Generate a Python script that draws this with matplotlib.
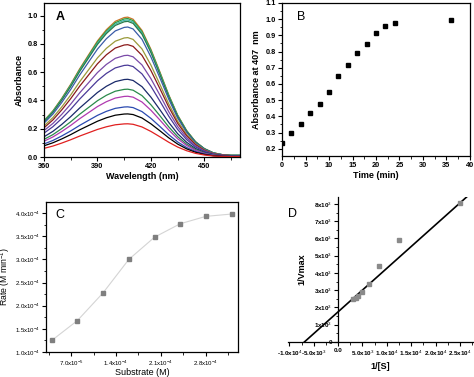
import matplotlib
matplotlib.use("Agg")
import matplotlib.pyplot as plt
from matplotlib.ticker import MultipleLocator, FixedLocator, FixedFormatter
import numpy as np

plt.rcParams['font.family'] = ['Liberation Sans', 'DejaVu Sans']
plt.rcParams['mathtext.fontset'] = 'custom'
plt.rcParams['mathtext.rm'] = 'Liberation Sans'
plt.rcParams['mathtext.bf'] = 'Liberation Sans:bold'

# ---------------- data ----------------
# Panel A: spectra (normalized band shape, scaled by each curve's peak)
a_wavelength = [360, 365, 370, 375, 380, 385, 390, 395, 400, 405, 407, 410, 415,
                420, 425, 430, 435, 440, 445, 450, 455, 460, 465, 470]
a_shape = [0.26, 0.33, 0.42, 0.52, 0.63, 0.73, 0.83, 0.91, 0.97, 0.997, 1.0, 0.985,
           0.905, 0.77, 0.61, 0.445, 0.30, 0.19, 0.11, 0.06, 0.03, 0.017, 0.012, 0.012]
a_peaks = [0.99, 0.98, 0.97, 0.96, 0.92, 0.845, 0.795, 0.72, 0.65, 0.55, 0.48, 0.43,
           0.355, 0.305, 0.235]
a_colors = ['#c8752a', '#2f9a3a', '#3fb8a8', '#2a7a4a', '#3a5ca8', '#9a9a3a', '#8a1a1a',
            '#7a4aa8', '#4a3a98', '#1a2a6a', '#2a8a4a', '#b03ab0', '#2a4ab0', '#000000',
            '#e02020']

# Panel B: absorbance at 407 nm vs time
b_time = [0, 2, 4, 6, 8, 10, 12, 14, 16, 18, 20, 22, 24, 36]
b_abs = [0.235, 0.30, 0.352, 0.422, 0.475, 0.55, 0.65, 0.715, 0.79, 0.845, 0.913,
         0.957, 0.975, 0.992]

# Panel C: rate vs substrate
c_substrate = [4.0e-5, 8.0e-5, 1.2e-4, 1.6e-4, 2.0e-4, 2.4e-4, 2.8e-4, 3.2e-4]
c_rate = [1.25e-4, 1.68e-4, 2.28e-4, 3.0e-4, 3.48e-4, 3.77e-4, 3.93e-4, 3.98e-4]

# Panel D: Lineweaver-Burk
d_inv_s = [25000, 12500, 8333, 6250, 5000, 4167, 3571, 3125]
d_inv_v = [8050, 5900, 4390, 3340, 2880, 2660, 2550, 2520]
d_fit_slope = 0.252
d_fit_intercept = 1750

W, H = 474, 377
fig = plt.figure(figsize=(W / 100, H / 100), dpi=100)


def add_ax(left, top, right, bottom):
    return fig.add_axes([left / W, 1 - bottom / H, (right - left) / W, (bottom - top) / H])


def style_ticks(ax, size=5.3, weight='bold'):
    ax.tick_params(which='major', direction='out', length=3, width=0.8, labelsize=size, pad=1.5)
    ax.tick_params(which='minor', direction='out', length=1.8, width=0.6)
    for lab in ax.get_xticklabels() + ax.get_yticklabels():
        lab.set_fontweight(weight)
    for s in ax.spines.values():
        s.set_linewidth(0.9)


# ---------------- Panel A ----------------
axA = add_ax(44, 3, 240, 157)
for pk, col in zip(a_peaks, a_colors):
    axA.plot(a_wavelength, np.array(a_shape) * pk, color=col, lw=0.9)
axA.set_xlim(360, 470)
axA.set_ylim(0, 1.09)
axA.xaxis.set_major_locator(MultipleLocator(30))
axA.xaxis.set_minor_locator(MultipleLocator(15))
axA.yaxis.set_major_locator(MultipleLocator(0.2))
axA.yaxis.set_minor_locator(MultipleLocator(0.1))
axA.yaxis.set_major_formatter(plt.FormatStrFormatter('%.1f'))
style_ticks(axA)
axA.set_xlabel('Wavelength (nm)', fontsize=6.5, fontweight='bold', labelpad=1)
axA.set_ylabel('Absorbance', fontsize=6.5, fontweight='bold', labelpad=3)
axA.text(0.06, 0.91, 'A', transform=axA.transAxes, fontsize=9, fontweight='bold', va='center')

# ---------------- Panel B ----------------
axB = add_ax(282, 3, 470, 156)
axB.plot(b_time, b_abs, 's', color='black', markersize=3.2)
axB.set_xlim(0, 40)
axB.set_ylim(0.155, 1.1)
axB.xaxis.set_major_locator(MultipleLocator(5))
axB.xaxis.set_minor_locator(MultipleLocator(2.5))
axB.yaxis.set_major_locator(MultipleLocator(0.1))
axB.yaxis.set_minor_locator(MultipleLocator(0.05))
axB.yaxis.set_major_formatter(plt.FormatStrFormatter('%.1f'))
style_ticks(axB)
axB.set_xlabel('Time (min)', fontsize=6.5, fontweight='bold', labelpad=1)
axB.set_ylabel('Absorbance at 407  nm', fontsize=6.5, fontweight='bold', labelpad=3)
axB.text(0.08, 0.91, 'B', transform=axB.transAxes, fontsize=9, va='center')

# ---------------- Panel C ----------------
axC = add_ax(46, 202, 238, 352)
axC.plot(c_substrate, c_rate, '-', color='#d4d4d4', lw=0.8, zorder=1)
axC.plot(c_substrate, c_rate, 's', color='#7f7f7f', markersize=3, zorder=2)
axC.set_xlim(3.1e-5, 3.3e-4)
axC.set_ylim(1.0e-4, 4.24e-4)
c_xticks = [7.0e-5, 1.4e-4, 2.1e-4, 2.8e-4]
c_xticklabels = ['7.0x10$^{-5}$', '1.4x10$^{-4}$', '2.1x10$^{-4}$', '2.8x10$^{-4}$']
axC.xaxis.set_major_locator(FixedLocator(c_xticks))
axC.xaxis.set_major_formatter(FixedFormatter(c_xticklabels))
axC.xaxis.set_minor_locator(MultipleLocator(3.5e-5))
c_yticks = [1.0e-4, 1.5e-4, 2.0e-4, 2.5e-4, 3.0e-4, 3.5e-4, 4.0e-4]
c_yticklabels = ['1.0x10$^{-4}$', '1.5x10$^{-4}$', '2.0x10$^{-4}$', '2.5x10$^{-4}$',
                 '3.0x10$^{-4}$', '3.5x10$^{-4}$', '4.0x10$^{-4}$']
axC.yaxis.set_major_locator(FixedLocator(c_yticks))
axC.yaxis.set_major_formatter(FixedFormatter(c_yticklabels))
axC.yaxis.set_minor_locator(MultipleLocator(0.25e-4))
style_ticks(axC, size=4.4, weight='normal')
axC.set_xlabel('Substrate (M)', fontsize=6.5, labelpad=0)
axC.set_ylabel('Rate (M min$^{-1}$)', fontsize=6.2)
axC.yaxis.set_label_coords(-0.175, 0.5)
axC.text(0.05, 0.91, 'C', transform=axC.transAxes, fontsize=9, va='center')

# ---------------- Panel D ----------------
axD = add_ax(288, 197, 473, 342)
fit_x = np.array([-1.0e4, 2.8e4])
axD.plot(fit_x, d_fit_slope * fit_x + d_fit_intercept, color='black', lw=1.2, zorder=2)
axD.plot(d_inv_s, d_inv_v, 's', color='#8a8a8a', markersize=3.5, zorder=3)
axD.set_xlim(-1.03e4, 2.77e4)
axD.set_ylim(0, 8.4e3)
axD.spines['top'].set_visible(False)
axD.spines['right'].set_visible(False)
axD.spines['left'].set_position(('data', 0))
d_xticks = [-1.0e4, -5.0e3, 0, 5.0e3, 1.0e4, 1.5e4, 2.0e4, 2.5e4]
d_xticklabels = ['-1.0x10$^4$', '-5.0x10$^3$', '0.0', '5.0x10$^3$', '1.0x10$^4$',
                 '1.5x10$^4$', '2.0x10$^4$', '2.5x10$^4$']
axD.xaxis.set_major_locator(FixedLocator(d_xticks))
axD.xaxis.set_major_formatter(FixedFormatter(d_xticklabels))
axD.xaxis.set_minor_locator(MultipleLocator(2.5e3))
d_yticks = [0, 1e3, 2e3, 3e3, 4e3, 5e3, 6e3, 7e3, 8e3]
d_yticklabels = ['0', '1x10$^3$', '2x10$^3$', '3x10$^3$', '4x10$^3$', '5x10$^3$',
                 '6x10$^3$', '7x10$^3$', '8x10$^3$']
axD.yaxis.set_major_locator(FixedLocator(d_yticks))
axD.yaxis.set_major_formatter(FixedFormatter(d_yticklabels))
axD.yaxis.set_minor_locator(MultipleLocator(500))
style_ticks(axD, size=4.5)
axD.set_xlabel('1/[S]', fontsize=6.5, fontweight='bold', labelpad=3)
axD.set_ylabel('1/Vmax', fontsize=6.5, fontweight='bold')
axD.yaxis.set_label_coords(0.10, 0.50)
axD.text(-0.0, 0.88, 'D', transform=axD.transAxes, fontsize=9, va='center')

fig.savefig('out.png', dpi=100)
